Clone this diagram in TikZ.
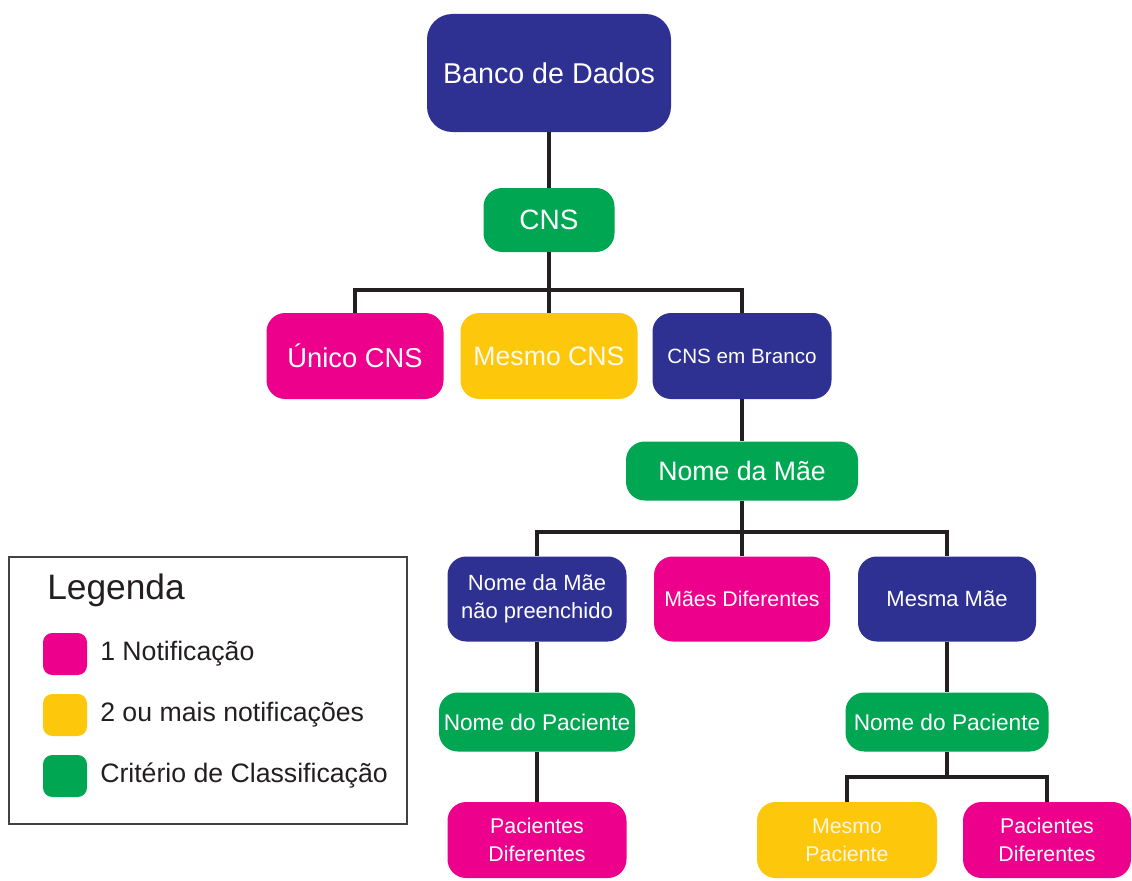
\documentclass[tikz,border=0pt]{standalone}
\usepackage{fontspec}
\setmainfont{Liberation Sans}
\definecolor{navy}{HTML}{2E3192}
\definecolor{pinkc}{HTML}{EC008C}
\definecolor{yellowc}{HTML}{FDC70C}
\definecolor{greenc}{HTML}{00A651}
\definecolor{inkc}{HTML}{231F20}
\tikzset{
  bx/.style={rounded corners=14pt, fill=#1, text=white, align=center, inner sep=0pt},
  sz/.style 2 args={minimum width=#1*0.75pt, minimum height=#2*0.75pt},
  conn/.style={line width=3pt, inkc, line join=miter},
  sw/.style={rounded corners=7pt, fill=#1, minimum width=33pt, minimum height=31.5pt, inner sep=0pt},
  legtxt/.style={text=inkc, anchor=west, inner sep=0pt, font=\fontsize{20pt}{24pt}\selectfont}
}
\begin{document}
\begin{tikzpicture}[x=0.75pt,y=-0.75pt]
\useasboundingbox (0,0) rectangle (1132,881);
% nodes
\node[bx=navy, sz={244}{118}, rounded corners=19pt, font=\fontsize{21.5pt}{25pt}\selectfont] (banco) at (549,73) {Banco de Dados};
\node[bx=greenc, sz={131}{64}, font=\fontsize{21pt}{25pt}\selectfont] (cns) at (549,220) {CNS};
\node[bx=pinkc, sz={177}{86}, font=\fontsize{20.5pt}{24pt}\selectfont] (unico) at (355,356) {Único CNS};
\node[bx=yellowc, sz={177}{86}, font=\fontsize{20pt}{24pt}\selectfont, text=white!92!yellowc] (mesmo) at (549,356) {Mesmo CNS};
\node[bx=navy, sz={179}{86}, font=\fontsize{15.5pt}{19pt}\selectfont] (branco) at (742,356) {CNS em Branco};
\node[bx=greenc, sz={232}{59}, font=\fontsize{20pt}{24pt}\selectfont] (nmae) at (742,471) {Nome da Mãe};
\node[bx=navy, sz={179}{85}, font=\fontsize{16.5pt}{21pt}\selectfont] (naopre) at (537,599) {Nome da Mãe\\não preenchido};
\node[bx=pinkc, sz={176}{85}, font=\fontsize{16pt}{20pt}\selectfont] (maesdif) at (742,599) {Mães Diferentes};
\node[bx=navy, sz={178}{85}, font=\fontsize{16.5pt}{20pt}\selectfont] (mesmamae) at (947,599) {Mesma Mãe};
\node[bx=greenc, sz={196}{59}, font=\fontsize{17pt}{21pt}\selectfont] (npac1) at (537,722) {Nome do Paciente};
\node[bx=greenc, sz={203}{59}, font=\fontsize{17pt}{21pt}\selectfont] (npac2) at (947,722) {Nome do Paciente};
\node[bx=pinkc, sz={179}{76}, font=\fontsize{16pt}{21pt}\selectfont] (pacdif1) at (537,840) {Pacientes\\Diferentes};
\node[bx=yellowc, sz={180}{76}, font=\fontsize{16pt}{21pt}\selectfont, text=white!85!yellowc] (mesmopac) at (847,840) {Mesmo\\Paciente};
\node[bx=pinkc, sz={168}{76}, font=\fontsize{16pt}{21pt}\selectfont] (pacdif2) at (1047,840) {Pacientes\\Diferentes};
% bus coordinates
\coordinate (b1) at (549,290);
\coordinate (b2) at (742,532);
\coordinate (b3) at (947,777);
% connectors
\draw[conn] (banco.south) -- (cns.north);
\draw[conn] (cns.south) -- (b1);
\draw[conn] (unico.north) |- (b1) -| (branco.north);
\draw[conn] (b1) -- (mesmo.north);
\draw[conn] (branco.south) -- (nmae.north);
\draw[conn] (nmae.south) -- (b2);
\draw[conn] (naopre.north) |- (b2) -| (mesmamae.north);
\draw[conn] (b2) -- (maesdif.north);
\draw[conn] (naopre.south) -- (npac1.north);
\draw[conn] (npac1.south) -- (pacdif1.north);
\draw[conn] (mesmamae.south) -- (npac2.north);
\draw[conn] (npac2.south) -- (b3);
\draw[conn] (mesmopac.north) |- (b3) -| (pacdif2.north);
% legend
\node[draw=inkc!85, line width=1.1pt, minimum width=298.5pt, minimum height=200pt, inner sep=0pt] (legend) at (208,690.5) {};
\node[text=inkc, anchor=west, inner sep=0pt, font=\fontsize{26.5pt}{30pt}\selectfont] (legtitle) at (47,590) {Legenda};
\node[sw=pinkc] (sw1) at (65,654) {};
\node[sw=yellowc] (sw2) at (65,715) {};
\node[sw=greenc] (sw3) at (65,776) {};
\node[legtxt] (lt1) at (100,654) {1 Notificação};
\node[legtxt] (lt2) at (100,715) {2 ou mais notificações};
\node[legtxt] (lt3) at (100,776) {Critério de Classificação};
\end{tikzpicture}
\end{document}
